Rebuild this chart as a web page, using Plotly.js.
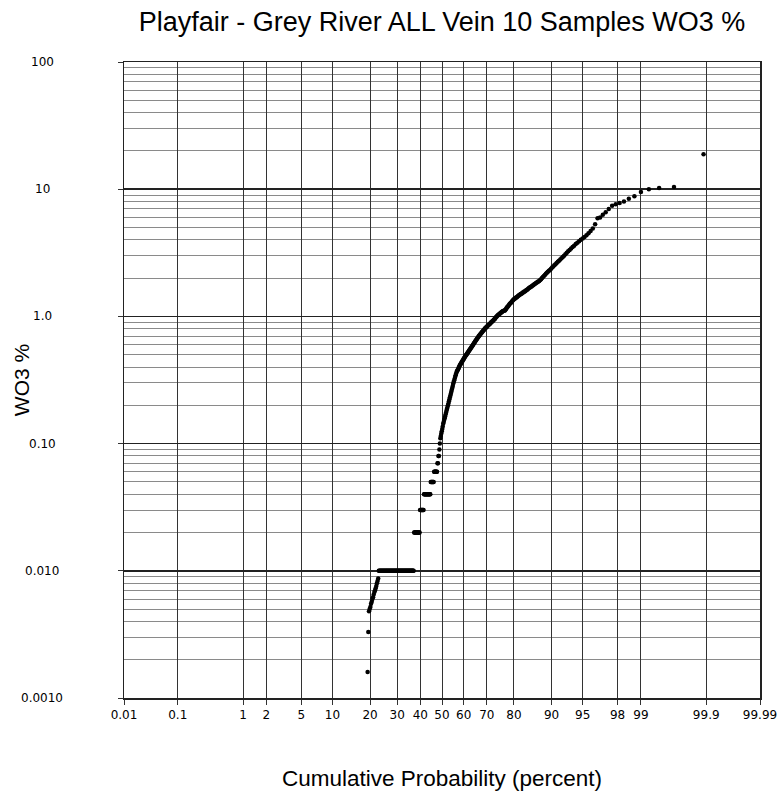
<!DOCTYPE html>
<html><head><meta charset="utf-8">
<script src="https://cdn.plot.ly/plotly-3.0.1.min.js"></script>
<style>html,body{margin:0;padding:0;background:#fff}#chart{width:782px;height:802px}</style>
</head><body><div id="chart"></div>
<script>
// Sample count and the rank of the first plotted (above detection) sample
const nSamples = 450;
const firstRank = 87;

// WO3 % values, sorted ascending (ranks 87..450)
const wo3Values = [
 0.0016, 0.0033,
 0.0048,0.005,0.0052,0.0055,0.0057,0.006,0.0062,0.0065,0.0068,0.007,0.0073,0.0076,0.008,0.0083,0.0087,
 0.01,0.01,0.01,0.01,0.01,0.01,0.01,0.01,0.01,0.01,0.01,0.01,0.01,0.01,0.01,0.01,
 0.01,0.01,0.01,0.01,0.01,0.01,0.01,0.01,0.01,0.01,0.01,0.01,0.01,0.01,0.01,0.01,
 0.01,0.01,0.01,0.01,0.01,0.01,0.01,0.01,0.01,0.01,0.01,0.01,0.01,0.01,0.01,0.01,
 0.01,0.01,0.01,0.01,0.01,0.01,0.01,0.01,0.01,0.01,0.01,0.01,0.01,0.01,0.01,0.01,
 0.02,0.02,0.02,0.02,0.02,0.02,0.02,0.02,0.02,0.02,0.02,0.02,
 0.03,0.03,0.03,0.03,0.03,0.03,0.03,0.03,
 0.04,0.04,0.04,0.04,0.04,0.04,0.04,0.04,0.04,0.04,0.04,0.04,0.04,0.04,
 0.05,0.05,0.05,0.05,0.05,0.05,0.05,
 0.06,0.06,0.06,0.06,0.06,0.06,0.06,
 0.07,0.07,0.08,0.08,0.09,0.1,
 0.11,0.115,0.12,0.125,0.13,0.136,0.143,
 0.148,0.153,0.158,0.163,0.169,0.175,0.181,
 0.188,0.194,0.2,0.207,0.215,0.222,0.23,
 0.238,0.247,0.256,0.265,0.274,0.284,0.295,
 0.305,0.314,0.324,0.334,0.344,0.354,0.365,
 0.372,0.378,0.385,0.392,0.4,0.407,0.415,
 0.421,0.427,0.434,0.44,0.447,0.453,0.46,0.467,0.474,0.481,
 0.487,0.494,0.5,0.507,0.514,0.521,0.528,0.535,0.543,0.55,0.558,0.565,0.573,
 0.58,0.588,0.597,0.605,0.614,0.622,0.631,0.64,0.649,0.658,0.667,0.676,0.686,
 0.695,0.703,0.712,0.72,0.729,0.738,0.747,0.756,0.765,0.774,0.783,0.793,0.803,
 0.81,0.818,0.826,0.834,0.843,0.851,0.859,0.868,0.877,0.885,0.894,0.903,
 0.912,0.92,0.93,0.94,0.95,0.96,0.975,0.99,1.0,1.01,1.02,1.03,1.04,1.05,
 1.06,1.07,1.08,1.09,1.1,1.105,1.11,1.115,1.12,
 1.14,1.16,1.18,1.19,1.21,1.23,1.25,1.27,1.28,1.3,1.32,1.34,1.36,
 1.37,1.38,1.4,1.41,1.42,1.44,1.45,1.47,1.48,1.5,1.51,1.52,1.54,1.55,1.57,1.58,1.6,1.61,
 1.63,1.65,1.67,1.69,1.7,1.72,1.74,1.76,1.78,1.8,1.82,1.84,1.86,1.88,1.9,1.93,
 1.96,2.0,2.04,2.08,2.12,2.16,2.2,2.24,2.28,2.32,
 2.37,2.42,2.47,2.52,2.57,2.63,2.69,2.74,2.8,2.86,2.93,
 3.0,3.08,3.16,3.25,3.33,3.42,3.52,3.6,3.7,
 3.8,3.9,4.0,4.1,4.2,4.35,4.5,4.7,4.9,5.3,
 5.9,6.0,6.3,6.6,7.0,7.4,7.6,7.8,8.0,8.4,8.8,9.5,10.0,10.2,10.4,18.8
];

// Probability axis ticks (percent) and labels
const tickPercents = [0.01,0.1,1,2,5,10,20,30,40,50,60,70,80,90,95,98,99,99.9,99.99];
const tickPercentLabels = ['0.01','0.1','1','2','5','10','20','30','40','50','60','70','80','90','95','98','99','99.9','99.99'];
// Log axis ticks
const yTickValues = [0.001,0.01,0.1,1,10,100];
const yTickLabels = ['0.0010','0.010','0.10','1.0','10','100'];

// Inverse standard normal CDF (Acklam) – the probability-paper scale
function normInv(p){
  const a=[-3.969683028665376e+01,2.209460984245205e+02,-2.759285104469687e+02,1.383577518672690e+02,-3.066479806614716e+01,2.506628277459239e+00];
  const b=[-5.447609879822406e+01,1.615858368580409e+02,-1.556989798598866e+02,6.680131188771972e+01,-1.328068155288572e+01];
  const c=[-7.784894002430293e-03,-3.223964580411365e-01,-2.400758277161838e+00,-2.549732539343734e+00,4.374664141464968e+00,2.938163982698783e+00];
  const d=[7.784695709041462e-03,3.224671290700398e-01,2.445134137142996e+00,3.754408661907416e+00];
  const pl=0.02425, ph=1-pl; let q,r;
  if(p<pl){q=Math.sqrt(-2*Math.log(p));return (((((c[0]*q+c[1])*q+c[2])*q+c[3])*q+c[4])*q+c[5])/((((d[0]*q+d[1])*q+d[2])*q+d[3])*q+1);}
  if(p>ph){q=Math.sqrt(-2*Math.log(1-p));return -(((((c[0]*q+c[1])*q+c[2])*q+c[3])*q+c[4])*q+c[5])/((((d[0]*q+d[1])*q+d[2])*q+d[3])*q+1);}
  q=p-0.5;r=q*q;return (((((a[0]*r+a[1])*r+a[2])*r+a[3])*r+a[4])*r+a[5])*q/(((((b[0]*r+b[1])*r+b[2])*r+b[3])*r+b[4])*r+1);
}

// plotting positions (Hazen) from rank
const cumPercent = wo3Values.map((v,k)=>((firstRank+k)-0.5)/nSamples*100);
const xScore = cumPercent.map(p=>normInv(p/100));

const trace = {
  type:'scatter', mode:'markers', x:xScore, y:wo3Values,
  marker:{color:'#000', size:4.5, line:{width:0}},
  hoverinfo:'skip', showlegend:false
};

// y tick labels are centred in the left margin, as in the original
const yLabelAnnotations = yTickValues.map((v,k)=>({
  xref:'paper', x:-82/636, xanchor:'center',
  yref:'y', y:Math.log10(v), yanchor:'middle',
  text:yTickLabels[k], showarrow:false,
  font:{family:'DejaVu Sans, sans-serif', size:12, color:'#000'}
}));

const layout = {
  width:782, height:802,
  margin:{l:124, r:22, t:62, b:104},
  paper_bgcolor:'#fff', plot_bgcolor:'#fff',
  title:{text:'Playfair - Grey River ALL Vein 10 Samples WO3 %', xref:'paper', x:0.5, xanchor:'center',
         yref:'container', y:1-22/802, yanchor:'middle',
         font:{family:'Liberation Sans, Arial, sans-serif', size:27, color:'#000'}},
  xaxis:{
    range:[normInv(0.0001), normInv(0.9999)],
    tickmode:'array', tickvals:tickPercents.map(p=>normInv(p/100)), ticktext:tickPercentLabels,
    ticks:'outside', ticklen:5, tickcolor:'#333', tickwidth:1,
    showgrid:true, gridcolor:'#333', gridwidth:1,
    showline:true, linecolor:'#222', linewidth:1.5, mirror:true, zeroline:false,
    tickfont:{family:'DejaVu Sans, sans-serif', size:12, color:'#000'},
    title:{text:'Cumulative Probability (percent)', standoff:49,
           font:{family:'Liberation Sans, Arial, sans-serif', size:22.5, color:'#000'}},
    automargin:false, fixedrange:true
  },
  yaxis:{
    type:'log', range:[-3,2],
    tickmode:'array', tickvals:yTickValues, ticktext:yTickLabels, showticklabels:false,
    ticks:'outside', ticklen:5, tickcolor:'#333', tickwidth:1,
    showgrid:true, gridcolor:'#222', gridwidth:1.5,
    minor:{dtick:'D1', showgrid:true, gridcolor:'#8a8a8a', gridwidth:1, ticks:''},
    showline:true, linecolor:'#222', linewidth:1.5, mirror:true, zeroline:false,
    title:{text:'WO3 %', standoff:82,
           font:{family:'Liberation Sans, Arial, sans-serif', size:21, color:'#000'}},
    automargin:false, fixedrange:true
  },
  annotations:yLabelAnnotations,
  showlegend:false
};

Plotly.newPlot('chart',[trace],layout,{displayModeBar:false, staticPlot:true});
</script>
</body></html>
